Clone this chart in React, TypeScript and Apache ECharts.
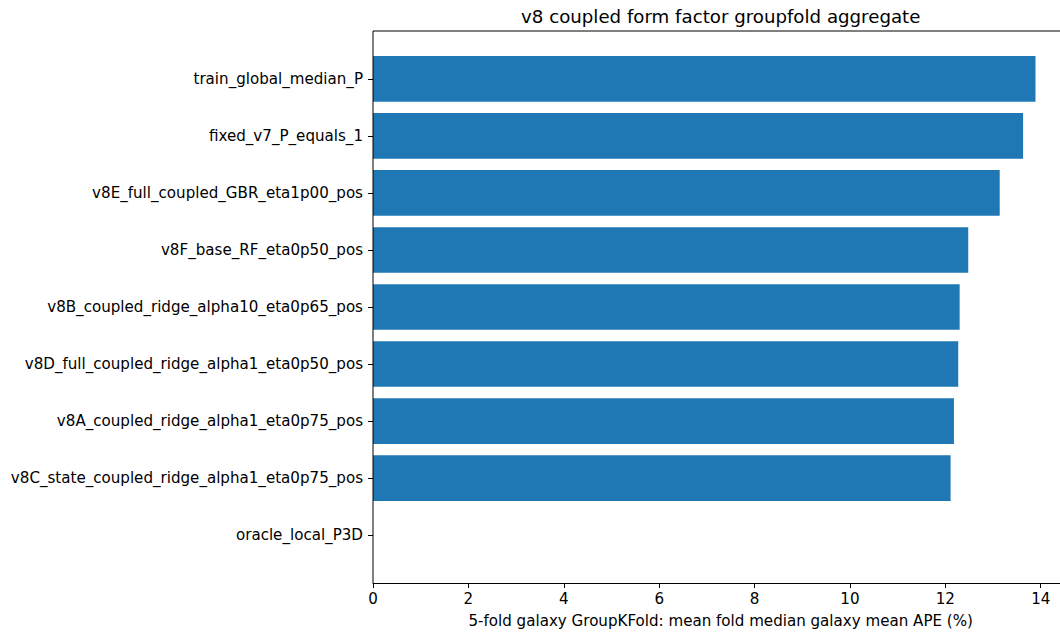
import React, { useEffect, useRef } from "react";
import * as echarts from "echarts";

const categories = [
  "train_global_median_P",
  "fixed_v7_P_equals_1",
  "v8E_full_coupled_GBR_eta1p00_pos",
  "v8F_base_RF_eta0p50_pos",
  "v8B_coupled_ridge_alpha10_eta0p65_pos",
  "v8D_full_coupled_ridge_alpha1_eta0p50_pos",
  "v8A_coupled_ridge_alpha1_eta0p75_pos",
  "v8C_state_coupled_ridge_alpha1_eta0p75_pos",
  "oracle_local_P3D",
];
const values: (number | null)[] = [13.89, 13.63, 13.14, 12.48, 12.30, 12.27, 12.18, 12.11, null];
const xTicksMax = 14.58;
const titleText = "v8 coupled form factor groupfold aggregate";
const xAxisName = "5-fold galaxy GroupKFold: mean fold median galaxy mean APE (%)";

const FONT = "DejaVu Sans";
const FS = 15.1;
const CW = 1080;
const CH = 633;
const AX_L = 373;
const AX_T = 31;
const AX_B = 583;
const AX_R = 1068.4;
const PAD = 19.3;

export default function App() {
  const ref = useRef<HTMLDivElement>(null);
  useEffect(() => {
    if (!ref.current) return;
    const chart = echarts.init(ref.current, null, { renderer: "svg" });
    chart.setOption({
      animation: false,
      backgroundColor: "#ffffff",
      grid: {
        left: AX_L,
        right: CW - AX_R,
        top: AX_T + PAD,
        bottom: CH - AX_B + PAD,
        containLabel: false,
      },
      xAxis: {
        type: "value",
        min: 0,
        max: xTicksMax,
        interval: 2,
        offset: PAD,
        axisLine: { show: true, lineStyle: { color: "#000", width: 1 } },
        axisTick: { show: true, length: 5, lineStyle: { color: "#000" } },
        axisLabel: {
          color: "#000",
          fontFamily: FONT,
          fontSize: FS,
          margin: 8,
          showMaxLabel: false,
          formatter: (v: number) => (Math.abs(v - Math.round(v)) < 1e-6 && Math.round(v) % 2 === 0 ? String(Math.round(v)) : ""),
        },
        splitLine: { show: false },
        name: xAxisName,
        nameLocation: "middle",
        nameGap: 30,
        nameTextStyle: { color: "#000", fontFamily: FONT, fontSize: FS },
      },
      yAxis: {
        type: "category",
        data: categories,
        inverse: true,
        axisLine: { show: false },
        axisTick: { show: true, length: 5, alignWithLabel: true, lineStyle: { color: "#000" } },
        axisLabel: { color: "#000", fontFamily: FONT, fontSize: FS, margin: 10 },
        splitLine: { show: false },
      },
      series: [
        {
          type: "bar",
          data: values,
          barCategoryGap: "20%",
          itemStyle: { color: "#1f77b4" },
        },
      ],
      graphic: [
        {
          type: "line",
          shape: { x1: AX_L, y1: AX_T, x2: AX_L, y2: AX_B },
          style: { stroke: "#000", lineWidth: 1 },
          z: 100,
        },
        {
          type: "line",
          shape: { x1: AX_L, y1: AX_T, x2: AX_R, y2: AX_T },
          style: { stroke: "#000", lineWidth: 1 },
          z: 100,
        },
        {
          type: "text",
          x: (AX_L + AX_R) / 2,
          y: 16,
          style: {
            text: titleText,
            fill: "#000",
            font: `18.2px "${FONT}"`,
            textAlign: "center",
            textVerticalAlign: "middle",
          },
        },
      ],
    });
    return () => chart.dispose();
  }, []);
  return (
    <div style={{ position: "absolute", left: 0, top: 0, width: 1060, height: CH, overflow: "hidden", background: "#fff" }}>
      <div ref={ref} style={{ width: CW, height: CH }} />
    </div>
  );
}
